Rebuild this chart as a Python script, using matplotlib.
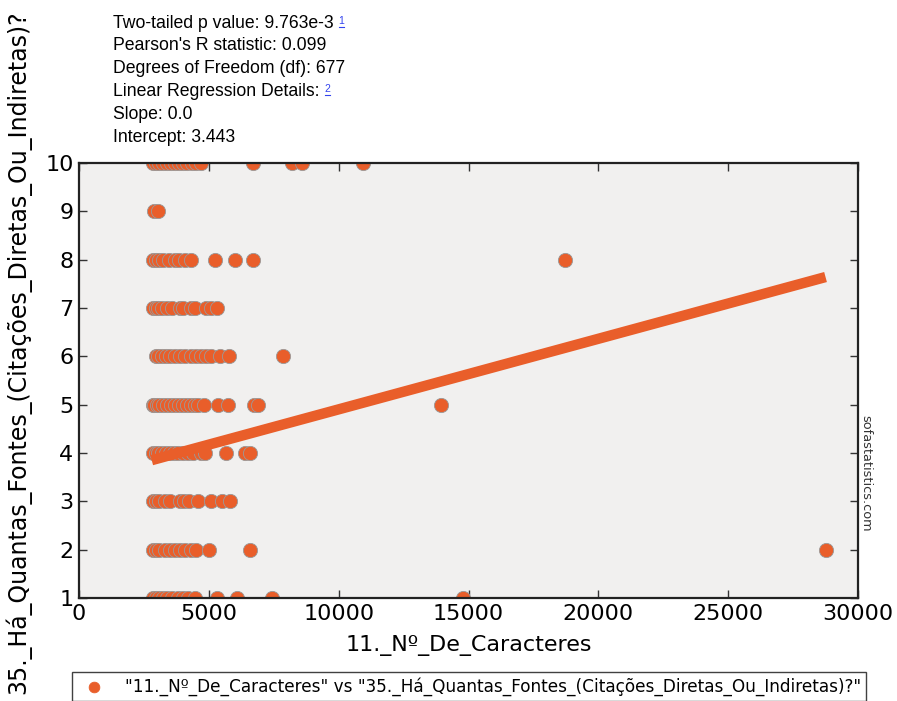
import numpy as np
import matplotlib
matplotlib.use("Agg")
import matplotlib.pyplot as plt
from matplotlib.lines import Line2D

# x values (characters) for each y level (number of sources)
x_by_level = {
    10: [2850, 2950, 3100, 3250, 3400, 3550, 3700, 3850, 4000, 4150, 4350, 4500, 4700,
         6700, 8200, 8600, 10950],
    9: [2900, 3050],
    8: [2850, 2950, 3100, 3250, 3450, 3700, 3850, 4100, 4300, 5250, 6000, 6700, 18700],
    7: [2850, 2950, 3050, 3200, 3400, 3600, 3900, 4000, 4300, 4450, 4900, 5100, 5300],
    6: [2950, 3050, 3200, 3350, 3500, 3700, 3900, 4100, 4300, 4500, 4700, 4900, 5100,
        5430, 5780, 7860],
    5: [2850, 2900, 3000, 3100, 3250, 3400, 3550, 3700, 3850, 4000, 4150, 4300, 4450,
        4600, 4800, 5350, 5750, 6750, 6900, 13950],
    4: [2850, 2950, 3050, 3200, 3350, 3500, 3650, 3800, 4000, 4200, 4400, 4700, 4850,
        5650, 6400, 6600],
    3: [2850, 2950, 3100, 3300, 3500, 3900, 4050, 4250, 4600, 5100, 5500, 5800],
    2: [2850, 2950, 3100, 3300, 3500, 3700, 3900, 4100, 4300, 4500, 5000, 6600, 28750],
    1: [2850, 2950, 3100, 3250, 3400, 3600, 3800, 4000, 4200, 4450, 5300, 6100, 7450, 14800],
}

slope = 0.000146
intercept = 3.443
line_x = [2800, 28750]

stats_lines = [
    "Two-tailed p value: 9.763e-3",
    "Pearson's R statistic: 0.099",
    "Degrees of Freedom (df): 677",
    "Linear Regression Details:",
    "Slope: 0.0",
    "Intercept: 3.443",
]
footnotes = {0: "1", 3: "2"}

xlabel = "11._Nº_De_Caracteres"
ylabel = "35._Há_Quantas_Fontes_(Citações_Diretas_Ou_Indiretas)?"
legend_label = '"11._Nº_De_Caracteres" vs "35._Há_Quantas_Fontes_(Citações_Diretas_Ou_Indiretas)?"'

orange = "#e95e2a"
link_blue = "#3344ee"

W, H = 897, 701
fig = plt.figure(figsize=(W / 100, H / 100), dpi=100)
ax = fig.add_axes([79 / W, 1 - 598 / H, (858 - 79) / W, (598 - 163) / H])
ax.set_facecolor("#f1f0ef")

xs, ys = [], []
for level, vals in x_by_level.items():
    xs.extend(vals)
    ys.extend([level] * len(vals))

ax.scatter(xs, ys, s=105, color=orange, edgecolors="#9a9a9a", linewidths=0.6,
           zorder=2, label=legend_label)
lx = np.array(line_x)
ax.plot(lx, intercept + slope * lx, color=orange, lw=7.5, solid_capstyle="butt", zorder=3)

ax.set_xlim(0, 30000)
ax.set_ylim(1, 10)
ax.set_xticks(range(0, 30001, 5000))
ax.set_yticks(range(1, 11))
ax.tick_params(direction="in", length=6, width=1, top=True, right=True,
               labelsize=16, pad=4, color="#333333")
for sp in ax.spines.values():
    sp.set_linewidth(1.6)
    sp.set_color("#222222")
ax.set_xlabel(xlabel, fontsize=16, labelpad=8)

fig.text(18 / W, 1 - 352 / H, ylabel, rotation=90, fontsize=17,
         ha="center", va="center")

# watermark
fig.text(866 / W, 1 - 473 / H, "sofastatistics.com", rotation=-90, fontsize=9.3,
         ha="center", va="center", color="#333333")

# stats text above the chart
fig.canvas.draw()
renderer = fig.canvas.get_renderer()
y0 = 23
for i, line in enumerate(stats_lines):
    t = fig.text(113 / W, 1 - (y0 + i * 22.9) / H, line, fontsize=12.7,
                 family="Liberation Sans", va="center", ha="left")
    if i in footnotes:
        bb = t.get_window_extent(renderer)
        px = bb.x1 + 5
        py = bb.y1 - 1
        fig.text(px / W, py / H, footnotes[i], fontsize=7.5, color=link_blue,
                 family="Liberation Sans", va="top", ha="left")
        fig.add_artist(Line2D([px / W, (px + 5) / W], [(py - 11) / H] * 2,
                              color=link_blue, lw=0.8, transform=fig.transFigure))

leg = ax.legend(loc="upper left", bbox_to_anchor=(72 / W, 1 - 672 / H),
                bbox_transform=fig.transFigure, fancybox=False, fontsize=12.2,
                scatterpoints=1, borderpad=0.3, borderaxespad=0,
                handlelength=2.0, handletextpad=0.8, markerscale=0.75)
leg.get_frame().set_edgecolor("#111111")
leg.get_frame().set_linewidth(1.0)
for h in leg.legend_handles:
    h.set_edgecolor(orange)

fig.savefig("out.png", dpi=100)
